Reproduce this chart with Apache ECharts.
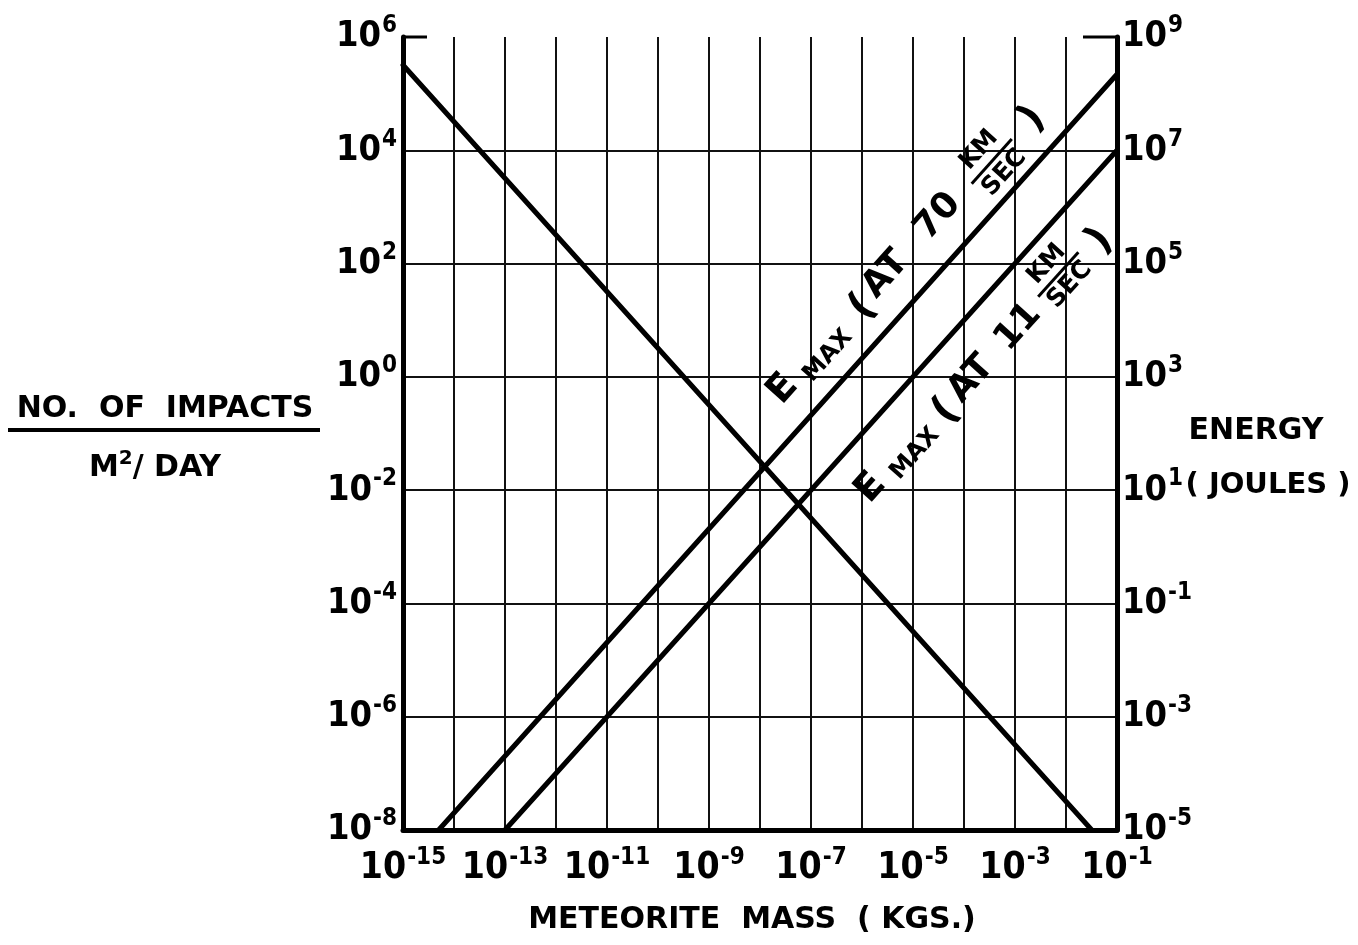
<!DOCTYPE html>
<html><head><meta charset="utf-8">
<script src="https://cdn.jsdelivr.net/npm/echarts@6/dist/echarts.min.js"></script>
<style>html,body{margin:0;padding:0;background:#fff}#c{width:1358px;height:945px}</style>
</head><body><div id="c"></div>
<script>
// ---------- data ----------
const massRange = [1e-15, 1e-1];          // kg
const impactsRange = [1e-8, 1e6];         // impacts / m^2 / day
const energyRange = [1e-5, 1e9];          // joules
const impactsLine = [[1e-15, 3.2e5], [3.2e-2, 1e-8]];
const e70Line = [[5.0e-15, 1e-5], [1e-1, 2.2e8]];
const e11Line = [[1e-13, 1e-5], [1e-1, 1e7]];
const xTickExps = [-15, -13, -11, -9, -7, -5, -3, -1];
const leftTickExps = [-8, -6, -4, -2, 0, 2, 4, 6];
const rightTickExps = [-5, -3, -1, 1, 3, 5, 7, 9];
const label70 = ['E', 'MAX', '(', 'AT', '70', 'KM', 'SEC', ')'];
const label11 = ['E', 'MAX', '(', 'AT', '11', 'KM', 'SEC', ')'];

// ---------- chart ----------
const NUM_FONT = '"DejaVu Sans Condensed", "Liberation Sans Narrow", Roboto, sans-serif';
const TXT_FONT = '"DejaVu Sans", sans-serif';
const chart = echarts.init(document.getElementById('c'));

function expOf(v) { return Math.round(Math.log10(v)); }
function tickRich(size, supSize, raise) {
  return {
    b: { fontFamily: NUM_FONT, fontWeight: 'bold', fontSize: size, lineHeight: size, color: '#000' },
    s: { fontFamily: NUM_FONT, fontWeight: 'bold', fontSize: supSize, lineHeight: supSize, padding: [0, 0, raise, 1], color: '#000' }
  };
}
function fmt(list) {
  return function (v) {
    const e = expOf(v);
    if (list.indexOf(e) < 0) return '';
    return '{b|10}{s|' + (e < 0 ? '-' + (-e) : e) + '}';
  };
}
const lineSeries = (data, yi) => ({
  type: 'line', data: data, xAxisIndex: 0, yAxisIndex: yi, symbol: 'none', silent: true,
  lineStyle: { color: '#000', width: 5, cap: 'round' }, z: 5
});

chart.setOption({
  animation: false,
  backgroundColor: '#fff',
  grid: { left: 403, top: 37, width: 714, height: 793 },
  xAxis: {
    type: 'log', logBase: 10, min: massRange[0], max: massRange[1], interval: 1,
    axisLine: { show: true, onZero: false, lineStyle: { color: '#000', width: 5 } },
    axisTick: { show: false },
    splitLine: { show: true, showMinLine: false, showMaxLine: false, lineStyle: { color: '#111', width: 2 } },
    axisLabel: { formatter: fmt(xTickExps), rich: tickRich(37, 24, 22), margin: 20 }
  },
  yAxis: [{
    type: 'log', logBase: 10, min: impactsRange[0], max: impactsRange[1], interval: 2,
    axisLine: { show: true, onZero: false, lineStyle: { color: '#000', width: 5 } },
    axisTick: { show: false },
    splitLine: { show: true, showMinLine: false, showMaxLine: false, lineStyle: { color: '#111', width: 2 } },
    axisLabel: { formatter: fmt(leftTickExps), rich: tickRich(36, 24, 22), margin: 6 }
  }, {
    type: 'log', logBase: 10, min: energyRange[0], max: energyRange[1], interval: 1, position: 'right',
    axisLine: { show: true, onZero: false, lineStyle: { color: '#000', width: 5 } },
    axisTick: { show: false },
    splitLine: { show: false },
    axisLabel: { formatter: fmt(rightTickExps), rich: tickRich(36, 24, 22), margin: 5 }
  }],
  series: [lineSeries(impactsLine, 0), lineSeries(e70Line, 1), lineSeries(e11Line, 1)]
});

// ---------- annotations ----------
function px(yi, pt) { return chart.convertToPixel({ xAxisIndex: 0, yAxisIndex: yi }, pt); }
// layout: [along-line offset from the lower end, distance from line (positive = upper-left), font size]
const layout70 = [[558, 38, 38], [613, 27, 24], [672, 33, 40], [712, 38, 36], [790, 38, 36], [867, 52, 25], [867, 18, 25], [926, 33, 40]];
const layout11 = [[499, -43, 38], [554, -53, 24], [606, -48, 40], [647, -45, 36], [717, -45, 36], [783, -24, 25], [783, -55, 25], [836, -48, 40]];
function buildLabel(lineData, texts, lay) {
  const a = px(1, lineData[0]);
  const b = px(1, lineData[1]);
  const ang = Math.atan2(a[1] - b[1], b[0] - a[0]);
  const children = texts.map((t, i) => ({
    type: 'text', x: lay[i][0], y: -lay[i][1],
    style: {
      text: t, fontFamily: TXT_FONT, fontWeight: 'bold',
      fontSize: lay[i][2], fill: '#000',
      align: 'center', verticalAlign: 'middle', textAlign: 'center', textVerticalAlign: 'middle'
    }
  }));
  const barY = -(lay[5][1] + lay[6][1]) / 2;
  children.push({ type: 'line', shape: { x1: lay[5][0] - 30, y1: barY, x2: lay[5][0] + 30, y2: barY }, style: { stroke: '#000', lineWidth: 3 } });
  return { type: 'group', x: a[0], y: a[1], rotation: ang, children: children };
}
const tl = px(0, [massRange[0], impactsRange[1]]);
const tr = px(0, [massRange[1], impactsRange[1]]);
const T = (text, x, y, size) => ({
  type: 'text', x: x, y: y,
  style: { text: text, fontFamily: TXT_FONT, fontWeight: 'bold', fontSize: size, fill: '#000', align: 'center', verticalAlign: 'middle', textAlign: 'center', textVerticalAlign: 'middle' }
});
chart.setOption({
  graphic: { elements: [
    buildLabel(e70Line, label70, layout70),
    buildLabel(e11Line, label11, layout11),
    { type: 'line', shape: { x1: tl[0], y1: tl[1], x2: tl[0] + 24, y2: tl[1] }, style: { stroke: '#000', lineWidth: 3 } },
    { type: 'line', shape: { x1: tr[0] - 34, y1: tr[1], x2: tr[0], y2: tr[1] }, style: { stroke: '#000', lineWidth: 3 } },
    T('NO.  OF  IMPACTS', 165, 409, 30),
    { type: 'line', shape: { x1: 8, y1: 430, x2: 320, y2: 430 }, style: { stroke: '#000', lineWidth: 4 } },
    { type: 'text', x: 155, y: 468, style: {
        text: '{a|M}{s|2}{a|/ DAY}', align: 'center', verticalAlign: 'middle', textAlign: 'center', textVerticalAlign: 'middle',
        rich: {
          a: { fontFamily: TXT_FONT, fontWeight: 'bold', fontSize: 30, lineHeight: 30, fill: '#000', color: '#000' },
          s: { fontFamily: TXT_FONT, fontWeight: 'bold', fontSize: 20, lineHeight: 20, padding: [0, 0, 18, 0], fill: '#000', color: '#000' }
        } } },
    T('ENERGY', 1256, 431, 30),
    T('( JOULES )', 1268, 485, 29),
    T('METEORITE  MASS  ( KGS.)', 752, 920, 30)
  ] }
});
</script>
</body></html>
